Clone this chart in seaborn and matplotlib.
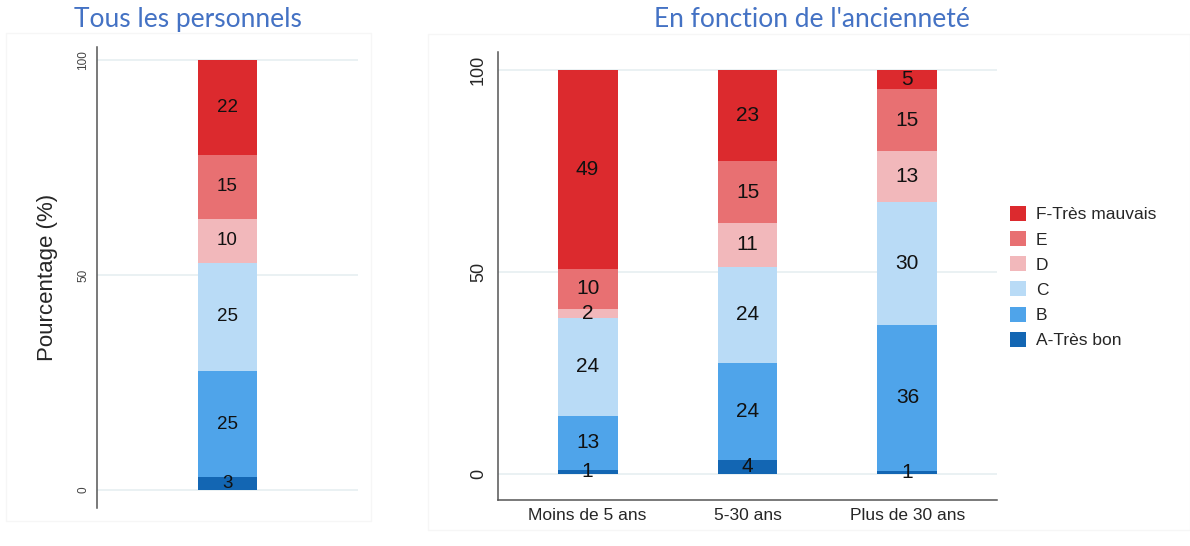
import matplotlib
matplotlib.use('Agg')
import matplotlib.pyplot as plt
from matplotlib.patches import Patch, Rectangle
import seaborn as sns
import pandas as pd
import numpy as np

# grades, bottom to top of each stacked bar
grades = ["A-Très bon", "B", "C", "D", "E", "F-Très mauvais"]
grade_colors = ["#1366B3", "#4FA4EA", "#B9DBF6", "#F2B8BB", "#E87072", "#DC2A2E"]

# left panel: all staff
tous_label = ["Tous"]
tous = [2.9, 24.8, 25.1, 10.3, 14.8, 22.1]

# right panel: by seniority
groups = ["Moins de 5 ans", "5-30 ans", "Plus de 30 ans"]
moins_5 = [1.1, 13.3, 24.3, 2.3, 9.9, 49.1]
de_5_30 = [3.6, 23.8, 24.0, 10.8, 15.2, 22.6]
plus_30 = [0.9, 36.0, 30.4, 12.6, 15.4, 4.7]

TITLE_BLUE = "#4472C4"
GRID = "#E6EFF1"
SPINE = "#555555"


def long_table(names, series):
    rows = []
    for name, vals in zip(names, series):
        cum = np.cumsum(vals)
        for g, v, c in zip(grades, vals, cum):
            rows.append({"groupe": name, "grade": g, "value": v, "cum": c})
    return pd.DataFrame(rows)


def stacked(ax, df, order, width, fs):
    # draw cumulative bars from the top grade down so each hides the one below
    for g, col in reversed(list(zip(grades, grade_colors))):
        sub = df[df["grade"] == g]
        sns.barplot(data=sub, x="groupe", y="cum", order=order, color=col,
                    saturation=1, width=width, linewidth=0, errorbar=None, ax=ax)
    for _, r in df.iterrows():
        ax.text(order.index(r["groupe"]), r["cum"] - r["value"] / 2, f"{r['value']:.0f}",
                ha="center", va="center", fontsize=fs, color="#111111", zorder=5)
    ax.set_xlabel("")
    ax.yaxis.grid(True, color=GRID, linewidth=1.2)
    ax.set_axisbelow(True)
    ax.set_yticks([0, 50, 100])


sns.set_style("white")
plt.rcParams['font.family'] = ['Liberation Sans', 'DejaVu Sans']

fig = plt.figure(figsize=(11.9, 5.46), dpi=100)

# faint panel frames
fig.add_artist(Rectangle((6 / 1190, 1 - 521 / 546), 365 / 1190, 488 / 546,
                         transform=fig.transFigure, fill=False, edgecolor="#F6F6F6", lw=1))
fig.add_artist(Rectangle((428 / 1190, 1 - 530 / 546), 762 / 1190, 496 / 546,
                         transform=fig.transFigure, fill=False, edgecolor="#F6F6F6", lw=1))

ax1 = fig.add_axes([97 / 1190, 1 - 508 / 546, 261 / 1190, 461 / 546])
ax2 = fig.add_axes([498 / 1190, 1 - 500 / 546, 499 / 1190, 448 / 546])

# --- left panel ---
stacked(ax1, long_table(tous_label, [tous]), tous_label, 0.4, 13.5)
ax1.set_xlim(-0.885, 0.885)
ax1.set_ylim(-4.2, 103)
ax1.set_xticks([])
ax1.set_ylabel("Pourcentage (%)", fontsize=16)
ax1.yaxis.set_label_coords(-0.15, 0.5)
for s in ["top", "right", "bottom"]:
    ax1.spines[s].set_visible(False)
ax1.spines["left"].set_color(SPINE)
ax1.spines["left"].set_linewidth(1.1)
ax1.tick_params(axis="y", length=3.6, width=0.8, color=SPINE, labelsize=8.5,
                labelcolor="#444444", pad=2)
plt.setp(ax1.get_yticklabels(), rotation=90, va="center")

# --- right panel ---
stacked(ax2, long_table(groups, [moins_5, de_5_30, plus_30]), groups, 0.375, 15)
ax2.set_xlim(-0.56, 2.56)
ax2.set_ylim(-6.4, 104.5)
ax2.set_ylabel("")
for s in ["top", "right"]:
    ax2.spines[s].set_visible(False)
for s in ["left", "bottom"]:
    ax2.spines[s].set_color(SPINE)
    ax2.spines[s].set_linewidth(1.1)
ax2.tick_params(axis="y", length=5, width=0.8, color=SPINE, labelsize=13, pad=3)
ax2.tick_params(axis="x", length=0, labelsize=12.5, pad=6)
plt.setp(ax2.get_yticklabels(), rotation=90, va="center")

# titles
fig.text(188 / 1190, 1 - 27 / 546, "Tous les personnels", ha="center", va="baseline",
         fontsize=19, color=TITLE_BLUE, family=["Lato", "DejaVu Sans"])
fig.text(812 / 1190, 1 - 27 / 546, "En fonction de l'ancienneté", ha="center", va="baseline",
         fontsize=19, color=TITLE_BLUE, family=["Lato", "DejaVu Sans"])

# legend, top grade first
handles = [Patch(facecolor=c, edgecolor="none") for c in reversed(grade_colors)]
fig.legend(handles, list(reversed(grades)), loc="upper left",
           bbox_to_anchor=(1010 / 1190, 1 - 206 / 546), frameon=False, fontsize=12.5,
           handlelength=0.95, handleheight=0.95, handletextpad=0.55,
           labelspacing=0.5, borderpad=0, borderaxespad=0)

fig.savefig("out.png", dpi=100)
